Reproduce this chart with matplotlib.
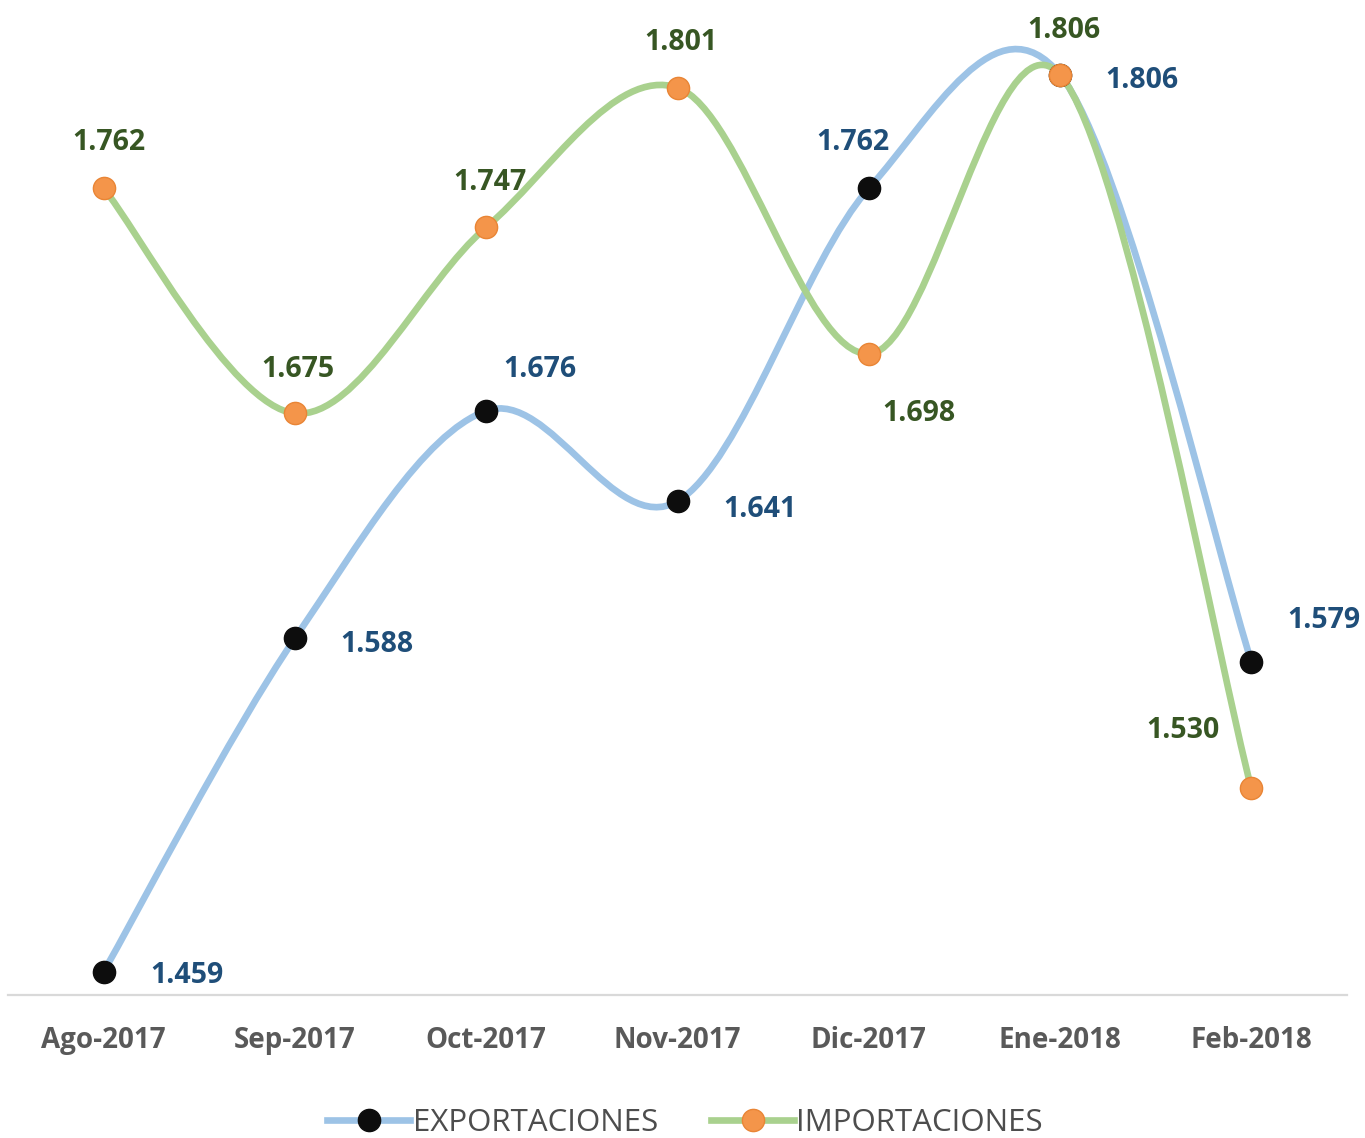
import numpy as np
import matplotlib.pyplot as plt
from matplotlib.path import Path
from matplotlib.patches import PathPatch
from matplotlib.lines import Line2D

plt.rcParams['font.family'] = ['Open Sans', 'DejaVu Sans']

# datos
meses = ['Ago-2017', 'Sep-2017', 'Oct-2017', 'Nov-2017', 'Dic-2017', 'Ene-2018', 'Feb-2018']
exportaciones = [1.459, 1.588, 1.676, 1.641, 1.762, 1.806, 1.579]
importaciones = [1.762, 1.675, 1.747, 1.801, 1.698, 1.806, 1.530]
etiquetas_exp = ['1.459', '1.588', '1.676', '1.641', '1.762', '1.806', '1.579']
etiquetas_imp = ['1.762', '1.675', '1.747', '1.801', '1.698', '1.806', '1.530']

# desplazamientos de las etiquetas (pixeles, y hacia abajo)
off_exp = [(83, 4), (82, 6), (54, -41), (82, 8), (-16, -46), (82, 6), (73, -41)]
off_imp = [(5, -46), (3, -44), (4, -45), (3, -45), (50, 60), (4, -44), (-68, -58)]

azul = '#9DC3E6'
verde = '#A9D18E'
naranja = '#F4954A'
txt_azul = '#1F4E79'
txt_verde = '#375623'


# curva suavizada estilo excel (bezier cubica, catmull-rom)
def curva_suave(x, y):
    x = np.asarray(x, float)
    y = np.asarray(y, float)
    n = len(x)
    verts = [(x[0], y[0])]
    codes = [Path.MOVETO]
    for i in range(n - 1):
        p0 = np.array([x[max(i - 1, 0)], y[max(i - 1, 0)]])
        p1 = np.array([x[i], y[i]])
        p2 = np.array([x[i + 1], y[i + 1]])
        p3 = np.array([x[min(i + 2, n - 1)], y[min(i + 2, n - 1)]])
        c1 = p1 + (p2 - p0) / 6.0
        c2 = p2 - (p3 - p1) / 6.0
        verts += [tuple(c1), tuple(c2), tuple(p2)]
        codes += [Path.CURVE4] * 3
    return Path(verts, codes)


fig = plt.figure(figsize=(13.65, 11.38), dpi=100)
ax = fig.add_axes([8 / 1365, 143 / 1138, 1339 / 1365, 995 / 1138])

x = np.arange(len(meses))

ax.add_patch(PathPatch(curva_suave(x, exportaciones), fill=False, edgecolor=azul,
                       lw=4.8, capstyle='round', zorder=2))
ax.add_patch(PathPatch(curva_suave(x, importaciones), fill=False, edgecolor=verde,
                       lw=4.8, capstyle='round', zorder=3))

ax.plot(x, exportaciones, 'o', color='#0D0D0D', ms=16, mec='#0D0D0D', zorder=4)
ax.plot(x, importaciones, 'o', color=naranja, ms=16, mec='#E98535', mew=1, zorder=5)

for xi, v, t, (dx, dy) in zip(x, exportaciones, etiquetas_exp, off_exp):
    ax.annotate(t, (xi, v), xytext=(dx / 1.389, -dy / 1.389), textcoords='offset points',
                ha='center', va='center', fontsize=20.5, fontweight='bold', color=txt_azul, zorder=6)
for xi, v, t, (dx, dy) in zip(x, importaciones, etiquetas_imp, off_imp):
    ax.annotate(t, (xi, v), xytext=(dx / 1.389, -dy / 1.389), textcoords='offset points',
                ha='center', va='center', fontsize=20.5, fontweight='bold', color=txt_verde, zorder=6)

ax.set_xlim(-0.5, len(meses) - 0.5)
ax.set_ylim(1.45, 1.45 + 995 / 2585)
ax.set_xticks(x)
ax.set_xticklabels(meses, fontsize=20, fontweight='bold', color='#595959')
ax.tick_params(axis='x', length=0, pad=22)
ax.set_yticks([])
for s in ['top', 'left', 'right']:
    ax.spines[s].set_visible(False)
ax.spines['bottom'].set_color('#D9D9D9')
ax.spines['bottom'].set_linewidth(1.6)
ax.patch.set_visible(False)

h_exp = Line2D([], [], color=azul, lw=4.8, marker='o', ms=16, mfc='#0D0D0D', mec='#0D0D0D')
h_imp = Line2D([], [], color=verde, lw=4.8, marker='o', ms=16, mfc=naranja, mec='#E98535')
leg = fig.legend([h_exp, h_imp], ['EXPORTACIONES', 'IMPORTACIONES'], loc='center',
                 bbox_to_anchor=(0.502, 15 / 1138), ncol=2, frameon=False,
                 fontsize=22.5, handlelength=2.65, handletextpad=0.08, columnspacing=1.7,
                 labelcolor='#4D4D4D')

fig.savefig('out.png', dpi=100)
